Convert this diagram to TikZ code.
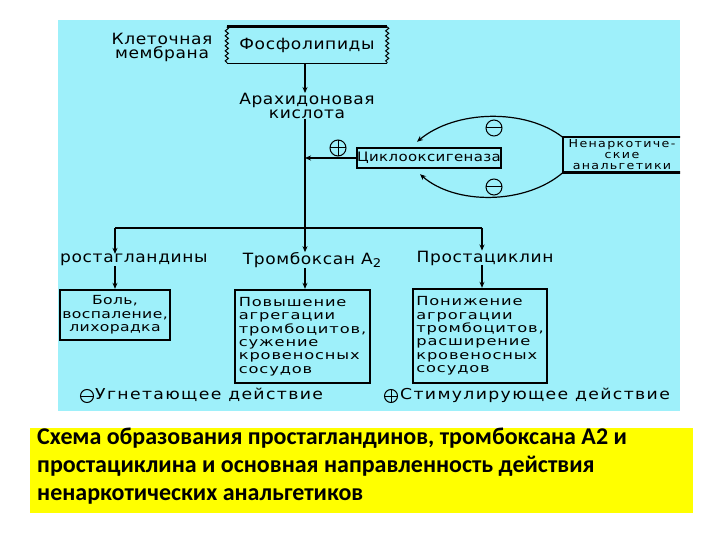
\documentclass[tikz,border=0pt]{standalone}
\usepackage{fontspec}
\setmainfont{DejaVu Sans}
\newfontfamily\capfont{Carlito}
\newfontfamily\dfont[FakeStretch=1.1,LetterSpace=4]{DejaVu Sans}
\newfontfamily\cfont[FakeStretch=1.15,LetterSpace=3]{DejaVu Sans}
\newfontfamily\nfont[FakeStretch=1.15,LetterSpace=12]{DejaVu Sans}
\newfontfamily\bfont[FakeStretch=1.3,LetterSpace=7]{DejaVu Sans}
\newfontfamily\bbfont[FakeStretch=1.25,LetterSpace=3]{DejaVu Sans}
\newfontfamily\lfont[FakeStretch=1.15,LetterSpace=9]{DejaVu Sans}
\usetikzlibrary{arrows.meta,decorations.pathmorphing}
\definecolor{bgcyan}{HTML}{9EF0FA}
\definecolor{capyellow}{HTML}{FFFF00}
\begin{document}
\begin{tikzpicture}[x=1pt,y=-1pt,
  lbl/.style={font=\dfont\fontsize{15.5}{14}\selectfont, inner sep=0, align=center, text=black},
  coxtxt/.style={font=\cfont\fontsize{13}{13}\selectfont, inner sep=0, align=center, text=black},
  nntxt/.style={font=\nfont\fontsize{11}{11}\selectfont, inner sep=0, align=center, text=black},
  boxtxt/.style={font=\bfont\fontsize{12.5}{13.4}\selectfont, inner sep=0, text=black, draw, line width=2.4pt},
  legtxt/.style={font=\lfont\fontsize{15}{15}\selectfont, inner sep=0, text=black},
  conn/.style={line width=1.2pt},
  arr/.style={conn,-{Stealth[length=6pt,width=5pt]}},
  wavy/.style={line width=1pt, decorate, decoration={snake,amplitude=1.6pt,segment length=5pt}},
  minuscirc/.style={circle,draw,line width=1pt,minimum size=16pt,inner sep=0,
    path picture={\draw[line width=1pt] (path picture bounding box.west)--(path picture bounding box.east);}},
  pluscirc/.style={circle,draw,line width=1pt,minimum size=16pt,inner sep=0,
    path picture={\draw[line width=1pt] (path picture bounding box.west)--(path picture bounding box.east)
      (path picture bounding box.north)--(path picture bounding box.south);}}
]
\useasboundingbox (0,0) rectangle (720,540);
\fill[white] (0,0) rectangle (720,540);
\fill[bgcyan] (58,20) rectangle (680,411);
\fill[capyellow] (30,428) rectangle (693,513);

\begin{scope}
\clip (58,20) rectangle (680,411);
% membrane
\node[lbl] (mem) at (162,47) {Клеточная\\мембрана};
\node[lbl, minimum width=160pt, minimum height=36pt] (phos) at (307,45) {Фосфолипиды};
\draw[line width=2.8pt] (phos.north west) -- (phos.north east);
\draw[line width=1.2pt] (phos.south west) -- (phos.south east);
\draw[wavy] (phos.north west) -- (phos.south west);
\draw[wavy] (phos.north east) -- (phos.south east);

\node[lbl] (ara) at (307,106) {Арахидоновая\\кислота};
\coordinate (j) at (305,228);
\coordinate (jl) at (115,228);
\coordinate (jr) at (482,228);
\draw[arr] (phos.south -| j) -- (ara.north -| j);
\draw[conn] (ara.south -| j) -- (j);

% cyclooxygenase
\node[coxtxt, draw, line width=2.4pt, minimum width=138pt, minimum height=20pt] (cox) at (429,158) {Циклооксигеназа};
\draw[arr] (cox.west) -- (cox.west -| j);
\node[pluscirc] (pl) at (338,148) {};

% analgesics
\node[nntxt, minimum width=118pt, minimum height=35pt] (nn) at (622,155) {Ненаркотиче-\\ские\\анальгетики};
\draw[line width=2.4pt] (nn.north east) -- (nn.north west) -- (nn.south west) -- (nn.south east);
\draw[arr] (nn.north west) .. controls (525,108) and (455,110) .. ([xshift=-12pt,yshift=5pt]cox.north);
\draw[arr] (nn.south west) .. controls (525,205) and (455,205) .. ([xshift=-9pt,yshift=-5pt]cox.south);
\node[minuscirc] (m1) at (494,128) {};
\node[minuscirc] (m2) at (494,187) {};

% products
\node[lbl, anchor=west] (pg) at (60,260) {ростагландины};
\node[lbl] (tx) at (312,260) {Тромбоксан А\raisebox{-3pt}{\fontsize{12}{12}\selectfont 2}};
\node[lbl] (pc) at (485,258) {Простациклин};
\draw[conn] (jl) -- (jr);
\draw[arr] (jl) -- (pg.north -| jl);
\draw[arr] (j) -- (tx.north -| j);
\draw[arr] (jr) -- (pc.north -| jr);

% effect boxes
\node[boxtxt, font=\bbfont\fontsize{12.5}{13.4}\selectfont, align=center, minimum width=110pt, minimum height=50pt] (b1) at (115,315) {Боль,\\воспаление,\\лихорадка};
\node[boxtxt, align=left, minimum width=135pt, minimum height=93pt] (b2) at (302.5,336.5) {Повышение\\агрегации\\тромбоцитов,\\сужение\\кровеносных\\сосудов};
\node[boxtxt, align=left, minimum width=134pt, minimum height=94pt] (b3) at (480,336) {Понижение\\агрогации\\тромбоцитов,\\расширение\\кровеносных\\сосудов};
\draw[arr] (pg.south -| jl) -- (b1.north -| jl);
\draw[arr] (tx.south -| j) -- (b2.north -| j);
\draw[arr] (pc.south -| jr) -- (b3.north -| jr);

% legend
\node[minuscirc, minimum size=13pt] (lm) at (87,396) {};
\node[legtxt, anchor=west] (lmt) at (95,395) {Угнетающее действие};
\node[pluscirc, minimum size=13pt] (lp) at (391,396) {};
\node[legtxt, anchor=west] (lpt) at (400,395) {Стимулирующее действие};
\end{scope}

% caption
\node[anchor=north west, font=\capfont\bfseries\fontsize{24}{28}\selectfont, align=left, inner sep=0, text=black] (cap) at (37,428)
  {Схема образования простагландинов, тромбоксана А2 и\\простациклина и основная направленность действия\\ненаркотических анальгетиков};
\end{tikzpicture}
\end{document}
